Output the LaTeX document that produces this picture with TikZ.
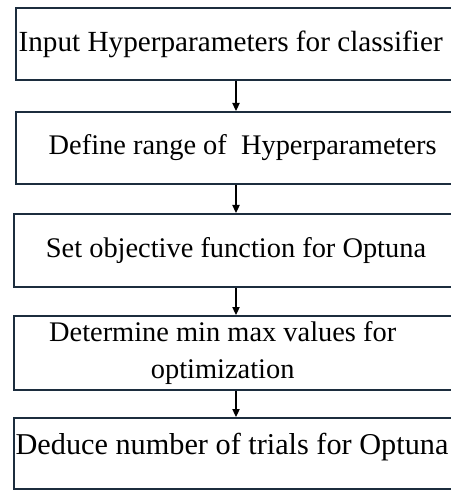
\documentclass[tikz,border=0pt]{standalone}
\usepackage{fontspec}
\setmainfont{Liberation Serif}
\usepackage{xcolor}
\usetikzlibrary{arrows.meta}

\definecolor{boxline}{RGB}{28,45,62}

\tikzset{
  stepbox/.style={draw=boxline, line width=1.5pt, rectangle, inner sep=0pt,
    minimum width=441*0.75pt, minimum height=72*0.75pt, align=center,
    font=\fontsize{21.3}{27.8}\selectfont},
  flow/.style={draw=black, line width=0.8pt, -{Triangle[length=6pt,width=5.5pt]}}
}

\begin{document}
\begin{tikzpicture}[x=0.75pt,y=0.75pt,yscale=-1,xscale=1]
\useasboundingbox (0,0) rectangle (450,491);

% boxes
\node [stepbox, font=\fontsize{21.9}{27.8}\selectfont] (input) at (236,44) {Input Hyperparameters for classifier\hspace*{8pt}};
\node [stepbox] (range) at (236,148) {\hspace*{10pt}Define range of \ Hyperparameters};
\node [stepbox, minimum width=444*0.75pt, minimum height=73*0.75pt] (objective) at (236,250.5) {Set objective function for Optuna};
\node [stepbox, minimum width=444*0.75pt, minimum height=74*0.75pt] (minmax) at (236,353) {Determine min max values for\hspace*{20pt}\\optimization\hspace*{20pt}};
\node [stepbox, minimum width=444*0.75pt, minimum height=71*0.75pt, font=\fontsize{22.7}{27.8}\selectfont] (trials) at (236,453.5) {\raisebox{14pt}{Deduce number of trials for Optuna}\hspace*{6pt}};

% arrows
\draw [flow] (input) -- (range);
\draw [flow] (range) -- (objective);
\draw [flow] (objective) -- (minmax);
\draw [flow] (minmax) -- (trials);

\end{tikzpicture}
\end{document}
